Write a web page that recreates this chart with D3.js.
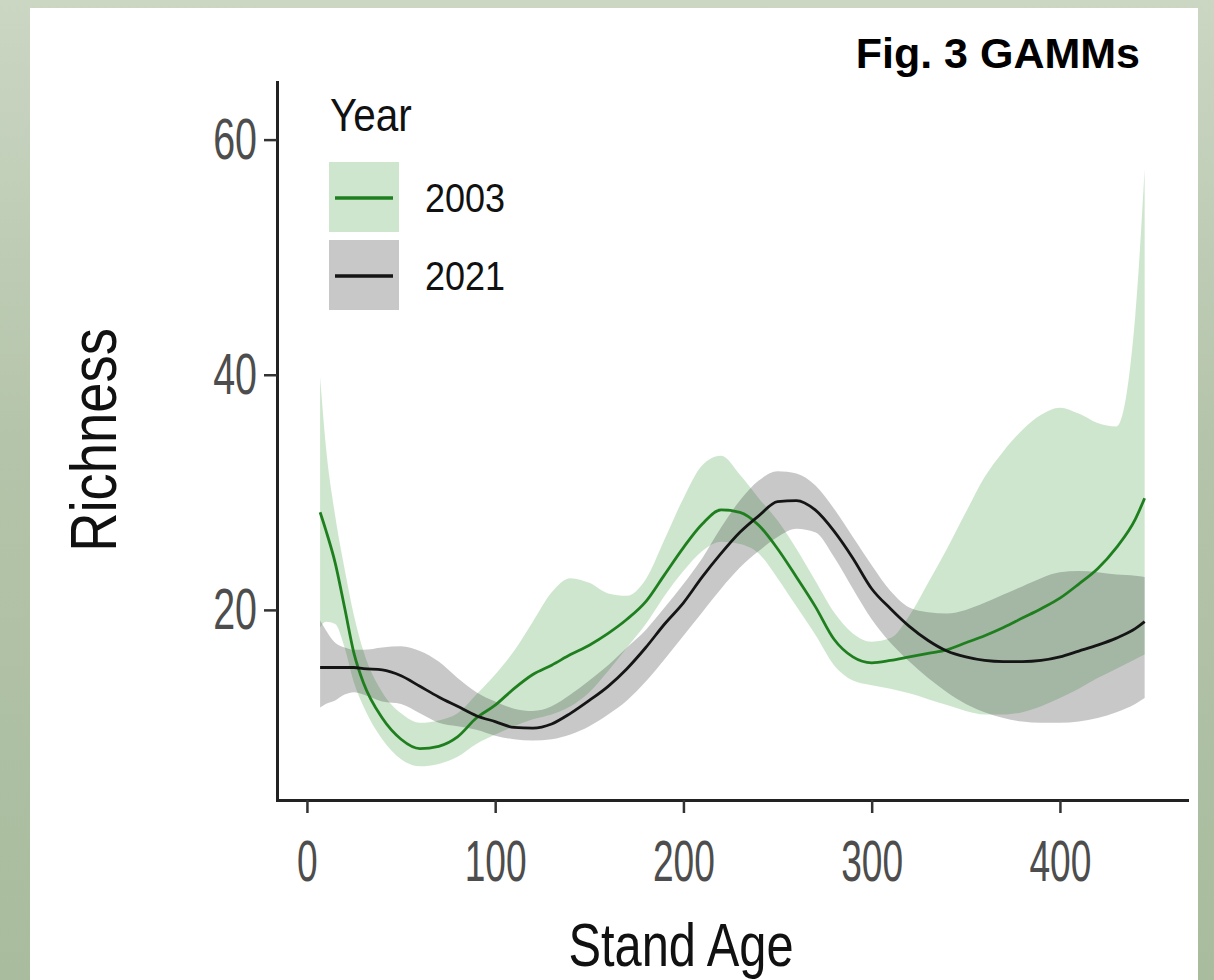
<!DOCTYPE html>
<html>
<head>
<meta charset="utf-8">
<script src="https://cdnjs.cloudflare.com/ajax/libs/d3/7.8.5/d3.min.js"></script>
<style>
  html, body { margin: 0; padding: 0; }
  body { width: 1214px; height: 980px; overflow: hidden; }
  svg { display: block; font-family: "Liberation Sans", Arial, sans-serif; }
</style>
</head>
<body>
<svg id="chart" width="1214" height="980"></svg>
<script>

// Stand age grid shared by every series
let stand_age = [7, 10, 15, 20, 25, 30, 40, 50, 60, 70, 80, 90, 100, 110, 120, 130, 140, 150, 160, 170,
                 180, 190, 200, 210, 220, 230, 240, 250, 260, 270, 280, 290, 300, 310, 320, 330, 340, 350,
                 360, 370, 380, 390, 400, 410, 420, 430, 440, 445];

// 2003 fit and confidence band
let fit_2003 = [28.3, 26.8, 24, 20.2, 16.3, 13.8, 10.8, 9, 8.2, 8.4, 9.2, 10.8, 11.9, 13.3, 14.5, 15.3, 16.2, 17, 18, 19.2,
                20.7, 23, 25.3, 27.3, 28.5, 28.3, 27.2, 25.2, 22.8, 20.3, 17.5, 16, 15.5, 15.7, 16, 16.3, 16.6, 17.2,
                17.8, 18.5, 19.3, 20.1, 21, 22.2, 23.5, 25.3, 27.7, 29.5];
let hi_2003 = [39.8, 34, 28, 23.5, 19.5, 16.5, 13, 11.2, 10.4, 10.6, 11.2, 12.8, 14.5, 16.5, 19, 21.5, 22.7, 22.3, 21.4, 21.2,
               22.6, 26, 29.5, 32.3, 33.1, 31.5, 29.5, 27.6, 25.2, 22.5, 19.8, 18, 17.3, 17.6, 19.5, 22.3, 25.2, 28.3,
               31.3, 33.5, 35.3, 36.6, 37.2, 36.7, 35.9, 35.6, 45, 57.5];
let lo_2003 = [18.5, 19, 18.8, 16.8, 13.8, 11.8, 9, 7.3, 6.7, 6.9, 7.5, 8.6, 9.4, 10.1, 10.7, 11.1, 11.8, 13, 14.8, 16.8,
               18.8, 21.2, 23.3, 25, 25.8, 25.6, 24.8, 22.7, 20.3, 17.9, 15.3, 14, 13.6, 13.3, 12.9, 12.4, 11.9, 11.4,
               11.1, 11.1, 11.3, 11.8, 12.5, 13.3, 14.2, 15, 15.8, 16.2];

// 2021 fit and confidence band
let fit_2021 = [15.1, 15.1, 15.1, 15.1, 15.1, 15, 14.9, 14.4, 13.5, 12.6, 11.8, 11, 10.5, 10, 9.95, 10.3, 11.2, 12.3, 13.5, 15,
                16.8, 18.8, 20.6, 22.8, 24.8, 26.6, 28, 29.2, 29.3, 28.5, 26.7, 24.4, 21.8, 20.1, 18.6, 17.4, 16.5, 16,
                15.7, 15.6, 15.6, 15.7, 16, 16.5, 17, 17.6, 18.4, 19];
let hi_2021 = [19.1, 18.3, 17.2, 16.8, 16.6, 16.6, 16.8, 16.9, 16.5, 15.6, 14.2, 13, 12.2, 11.6, 11.4, 11.8, 12.8, 14, 15.3, 16.8,
               18.3, 20.2, 22.2, 24.4, 27, 29.3, 31, 31.8, 31.6, 30.6, 28.6, 26.2, 23.8, 21.6, 20.2, 19.8, 19.7, 20,
               20.6, 21.3, 22, 22.7, 23.2, 23.3, 23.2, 23, 22.9, 22.8];
let lo_2021 = [11.7, 12, 12.3, 12.8, 13, 12.8, 12.2, 12, 11.2, 10.4, 10.1, 9.8, 9.3, 9, 8.9, 9, 9.4, 10.1, 11.1, 12.3,
               13.9, 15.8, 17.8, 19.8, 21.8, 23.6, 25, 26.2, 26.9, 26.6, 24.5, 21.8, 19.2, 17.2, 15.6, 14.2, 13, 12,
               11.3, 10.8, 10.5, 10.4, 10.4, 10.5, 10.8, 11.3, 12, 12.5];

let years = ["2003", "2021"];
let x_ticks = [0, 100, 200, 300, 400];
let y_ticks = [20, 40, 60];

let chart = d3.select("#chart");
let defs = chart.append("defs");

// soft blurred green backdrop behind the white panel
let grad = defs.append("linearGradient")
               .attr("id", "bg_grad")
               .attr("x1", 0).attr("y1", 0).attr("x2", 0).attr("y2", 1);
grad.append("stop").attr("offset", "0%").attr("stop-color", "#cbd6c3");
grad.append("stop").attr("offset", "45%").attr("stop-color", "#b4c4aa");
grad.append("stop").attr("offset", "100%").attr("stop-color", "#a9bc9d");

chart.append("rect")
     .attr("width", 1214).attr("height", 980)
     .attr("fill", "url(#bg_grad)");

chart.append("rect")
     .attr("x", 30).attr("y", 8)
     .attr("width", 1168).attr("height", 980)
     .attr("fill", "white");

// scales
let x = d3.scaleLinear()
          .domain([-15.9, 467.5])
          .range([277, 1187]);

let y = d3.scaleLinear()
          .domain([3.83, 64.9])
          .range([800, 82]);

let band = d3.area()
             .x(function(d){ return x(d.age); })
             .y0(function(d){ return y(d.lo); })
             .y1(function(d){ return y(d.hi); })
             .curve(d3.curveMonotoneX);

let line = d3.line()
             .x(function(d){ return x(d.age); })
             .y(function(d){ return y(d.fit); })
             .curve(d3.curveMonotoneX);

function rows(fit, lo, hi){
    return stand_age.map(function(a, i){ return {age: a, fit: fit[i], lo: lo[i], hi: hi[i]}; });
}

let series = [
    {year: "2003", data: rows(fit_2003, lo_2003, hi_2003), fill: "#228b22", fill_op: 0.22, stroke: "#1f7f1f"},
    {year: "2021", data: rows(fit_2021, lo_2021, hi_2021), fill: "#333333", fill_op: 0.27, stroke: "#151515"}
];

// confidence ribbons
chart.selectAll("path.band")
     .data(series).enter()
        .append("path")
            .attr("class", "band")
            .attr("d", function(d){ return band(d.data); })
            .attr("fill", function(d){ return d.fill; })
            .attr("fill-opacity", function(d){ return d.fill_op; });

// fitted lines
chart.selectAll("path.fit")
     .data(series).enter()
        .append("path")
            .attr("class", "fit")
            .attr("d", function(d){ return line(d.data); })
            .attr("fill", "none")
            .attr("stroke", function(d){ return d.stroke; })
            .attr("stroke-width", 2.8);

// axes
let x_axis = chart.append("g")
                  .attr("transform", "translate(0,800)")
                  .call(d3.axisBottom(x).tickValues(x_ticks).tickSize(13).tickSizeOuter(0).tickPadding(27));

let y_axis = chart.append("g")
                  .attr("transform", "translate(277,0)")
                  .call(d3.axisLeft(y).tickValues(y_ticks).tickSize(13).tickSizeOuter(0).tickPadding(8));

[x_axis, y_axis].forEach(function(g){
    g.select(".domain").attr("stroke", "#222").attr("stroke-width", 3).attr("stroke-linecap", "square");
    g.selectAll(".tick line").attr("stroke", "#333").attr("stroke-width", 2.5);
    g.selectAll(".tick text")
     .attr("fill", "#4d4d4d")
     .attr("font-size", 58)
     .attr("font-family", "'Liberation Sans', Arial, sans-serif");
});

// the tick labels in the figure are narrow, squeeze them sideways
x_axis.selectAll(".tick text")
      .attr("transform", "scale(0.64,1)");
y_axis.selectAll(".tick text")
      .attr("x", 0)
      .attr("transform", "translate(-20,0) scale(0.68,1)");

// axis titles
chart.append("text")
     .attr("transform", "translate(681,966) scale(0.8,1)")
     .attr("text-anchor", "middle")
     .attr("font-size", 61)
     .attr("fill", "#111")
     .text("Stand Age");

chart.append("text")
     .attr("transform", "translate(116,440) rotate(-90) scale(0.85,1)")
     .attr("text-anchor", "middle")
     .attr("font-size", 64)
     .attr("fill", "#111")
     .text("Richness");

// legend
let legend = chart.append("g");

legend.append("text")
      .attr("transform", "translate(330,131) scale(0.88,1)")
      .attr("font-size", 46)
      .attr("fill", "#111")
      .text("Year");

let keys = legend.selectAll("g.key")
                 .data(series).enter()
                    .append("g")
                        .attr("class", "key")
                        .attr("transform", function(d, i){ return "translate(329," + (162 + i * 78) + ")"; });

keys.append("rect")
    .attr("width", 70).attr("height", 70)
    .attr("fill", function(d){ return d.fill; })
    .attr("fill-opacity", function(d){ return d.fill_op; });

keys.append("line")
    .attr("x1", 6).attr("x2", 64)
    .attr("y1", 36).attr("y2", 36)
    .attr("stroke", function(d){ return d.stroke; })
    .attr("stroke-width", 3.5);

keys.append("text")
    .attr("transform", "translate(96,50) scale(0.9,1)")
    .attr("font-size", 40)
    .attr("fill", "#111")
    .text(function(d, i){ return years[i]; });

// figure label
chart.append("text")
     .attr("x", 1140).attr("y", 68)
     .attr("text-anchor", "end")
     .attr("font-size", 43)
     .attr("font-weight", "bold")
     .attr("fill", "#000")
     .text("Fig. 3 GAMMs");

</script>
</body>
</html>
